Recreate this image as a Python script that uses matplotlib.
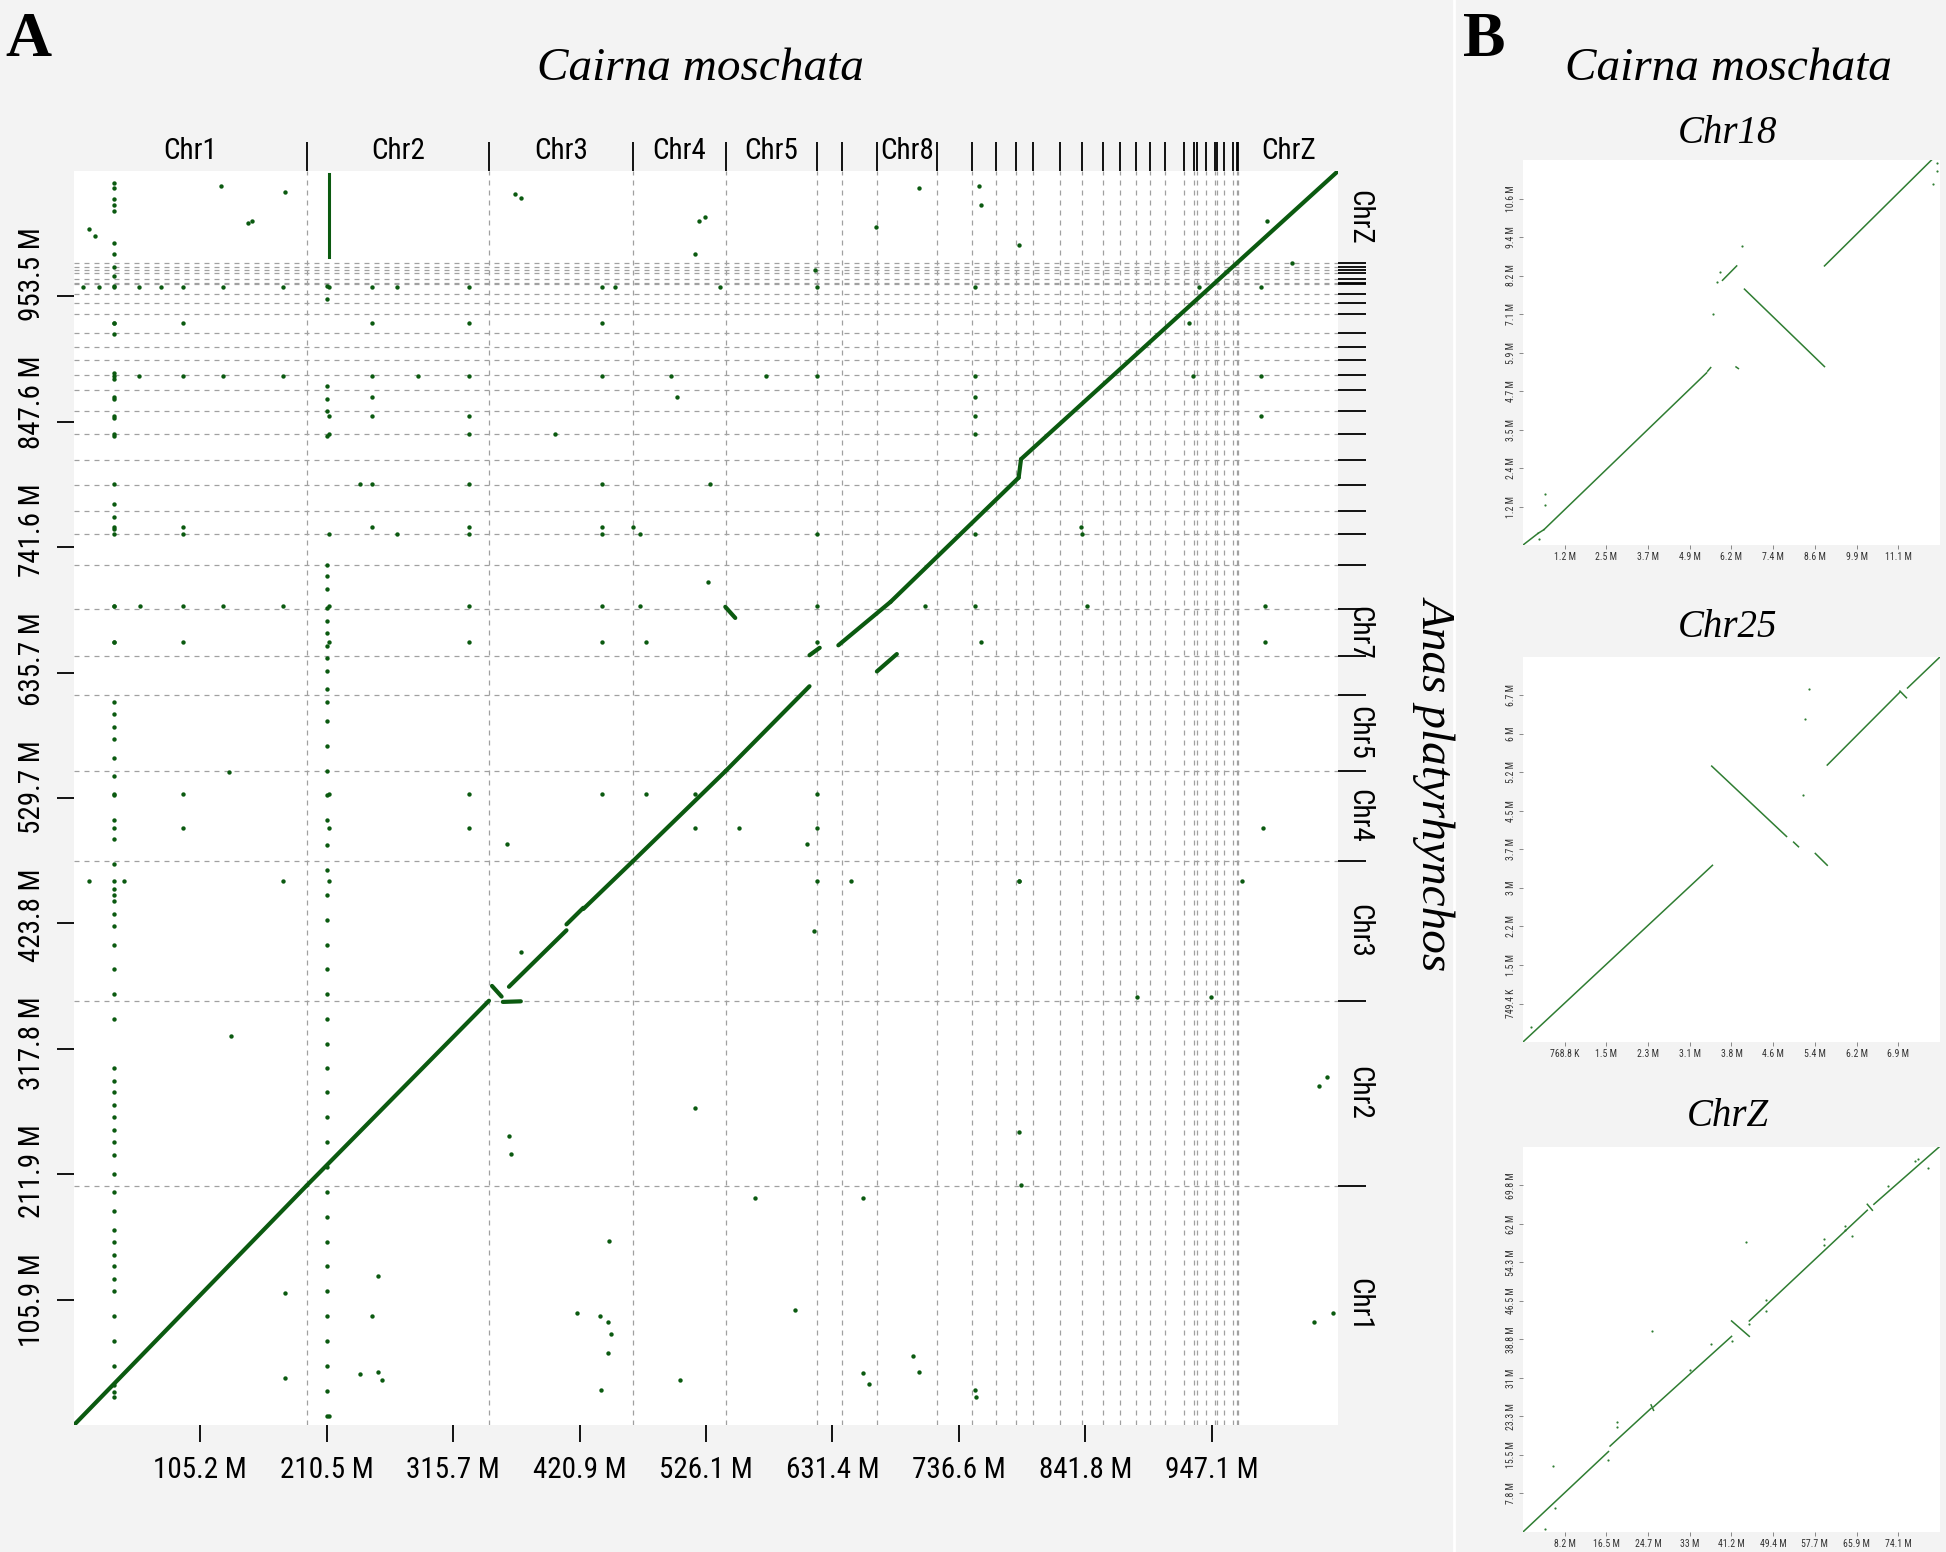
import numpy as np
import matplotlib.pyplot as plt
from matplotlib import font_manager
from matplotlib.transforms import blended_transform_factory, ScaledTranslation

# a narrow sans is needed for the tick labels; take the first one installed
installed = {f.name for f in font_manager.fontManager.ttflist}
narrow = [n for n in ['Liberation Sans Narrow', 'Roboto Condensed', 'DejaVu Sans Condensed',
                      'Open Sans Condensed'] if n in installed]
cond = [f for f in font_manager.fontManager.ttflist
        if f.name in ('DejaVu Sans', 'Roboto', 'Open Sans', 'Noto Sans') and f.stretch in
        ('condensed', 'semi-condensed', 'extra-condensed', 'ultra-condensed', 300)]
if narrow:
    plt.rcParams['font.family'] = [narrow[0], 'DejaVu Sans']
    FS = 21
elif cond:
    plt.rcParams['font.family'] = [cond[0].name, 'DejaVu Sans']
    plt.rcParams['font.stretch'] = 'condensed'
    FS = 21
else:
    plt.rcParams['font.family'] = ['Liberation Sans', 'DejaVu Sans']
    FS = 18

BG = '#f3f3f3'
GREEN = '#0b5a10'
LGREEN = '#2f7d32'
SERIF = 'Liberation Serif'

# ---- panel A: whole genome, Cairina moschata (x) vs Anas platyrhynchos (y), Mb
x_total = 1052.3
y_total = 1059.5
x_tick_labels = ['105.2 M', '210.5 M', '315.7 M', '420.9 M', '526.1 M',
                 '631.4 M', '736.6 M', '841.8 M', '947.1 M']
y_tick_labels = ['105.9 M', '211.9 M', '317.8 M', '423.8 M', '529.7 M',
                 '635.7 M', '741.6 M', '847.6 M', '953.5 M']

cm_bounds = [193.7, 345.5, 465.1, 542.5, 618.3, 639.1, 668.7, 718.7, 747.6,
             767.6, 784.2, 798.1, 820.8, 838.9, 856.9, 870.9, 884.1, 895.5,
             908.0, 924.2, 932.6, 934.5, 942.4, 949.9, 951.3, 957.6, 965.1,
             967.9, 969.4]
cm_labels = {0: 'Chr1', 1: 'Chr2', 2: 'Chr3', 3: 'Chr4', 4: 'Chr5', 7: 'Chr8', 29: 'ChrZ'}

ap_bounds = [202.3, 358.5, 476.2, 552.6, 617.0, 649.9, 689.2, 726.3, 752.9,
             772.6, 794.3, 815.2, 837.7, 856.6, 874.1, 887.4, 900.1, 910.5,
             922.5, 938.6, 948.4, 955.4, 963.8, 965.2, 968.7, 973.6, 975.9,
             978.5, 982.0]
ap_labels = {0: 'Chr1', 1: 'Chr2', 2: 'Chr3', 3: 'Chr4', 4: 'Chr5', 6: 'Chr7', 29: 'ChrZ'}

# collinear blocks (x0, y0, x1, y1)
diag_blocks = [
    (0, 0, 193.7, 202.3),
    (193.7, 202.3, 345.5, 358.5),
    (348.0, 371.0, 356.0, 362.0),
    (357.0, 357.5, 372.0, 358.0),
    (362.1, 370.3, 410.0, 418.0),
    (410.0, 423.0, 424.0, 437.0),
    (424.0, 436.0, 465.1, 476.2),
    (465.1, 476.2, 542.5, 552.6),
    (542.2, 691.3, 550.5, 681.9),
    (542.5, 552.6, 612.3, 624.2),
    (612.3, 650.4, 620.8, 656.7),
    (636.3, 658.8, 679.8, 695.5),
    (668.4, 636.7, 685.0, 651.4),
    (679.8, 695.5, 786.4, 800.4),
    (786.4, 800.4, 788.4, 816.1),
    (788.4, 816.1, 1052.3, 1059.5),
]

# column of scattered hits at Chr1 (x ~ 33 Mb) and Chr2 start (x ~ 212 Mb)
col1_y = [1049, 1045, 1036, 1031, 1026, 999, 989, 978, 971, 962, 931, 922, 889,
          884, 867, 851, 836, 778, 767, 757, 692, 662, 611, 601, 590, 580, 564,
          548, 532, 511, 495, 474, 453, 448, 443, 432, 422, 406, 385, 364, 343,
          302, 291, 281, 270, 260, 249, 239, 228, 212, 197, 181, 165, 155, 144,
          134, 123, 113, 92, 71, 50, 34, 28, 24]
col2_y = [962, 951, 878, 867, 857, 836, 727, 717, 706, 690, 679, 669, 658, 648,
          637, 622, 611, 595, 574, 553, 532, 511, 490, 469, 448, 427, 406, 385,
          364, 343, 322, 302, 281, 260, 239, 218, 197, 176, 155, 134, 113, 92,
          71, 50, 29, 8]
col2_run = (212.1, 987.0, 1057.0)

# rows of scattered hits: y value -> x values
rows = {
    961.9: [7.2, 20.7, 33.1, 53.8, 72.4, 91.1, 124.2, 173.8, 212.1, 248.3, 269.0,
            329.0, 439.7, 450.1, 538.0, 618.7, 750.2, 936.4, 988.1],
    931.5: [33.1, 91.1, 248.3, 329.0, 439.7, 928.0],
    886.4: [33.1, 53.8, 91.1, 124.2, 173.8, 248.3, 286.6, 329.0, 439.7, 496.7,
            576.3, 618.7, 750.2, 931.2, 988.1],
    868.6: [33.1, 248.3, 501.8, 750.2],
    852.8: [33.1, 212.1, 248.3, 329.0, 750.2, 988.1],
    837.1: [33.1, 212.1, 329.0, 400.4, 750.2],
    795.1: [33.1, 238.0, 248.3, 329.0, 439.7, 529.7],
    758.4: [33.1, 91.1, 248.3, 329.0, 439.7, 465.5, 838.0],
    753.2: [33.1, 91.1, 212.1, 269.0, 329.0, 439.7, 470.8, 618.7, 750.2, 839.1],
    692.3: [33.1, 54.8, 91.1, 124.2, 173.8, 212.1, 329.0, 439.7, 470.8, 618.7,
            708.8, 750.2, 843.3, 991.2],
    661.9: [33.1, 91.1, 212.1, 329.0, 439.7, 476.0, 618.7, 755.3, 991.2],
    532.9: [33.1, 91.1, 212.1, 329.0, 439.7, 476.0, 517.4, 618.7],
    504.6: [33.1, 91.1, 212.1, 329.0, 517.4, 553.6, 618.7, 990.2],
    459.5: [12.4, 33.1, 41.4, 173.8, 212.1, 618.7, 646.7, 786.4, 972.6],
}

# isolated hits (x, y)
scatter_x = [12.4, 17.6, 122.1, 148.0, 144.9, 372.5, 517.4, 520.5, 525.6, 667.4,
             703.6, 753.3, 755.3, 786.4, 616.7, 993.3, 1014.0, 129.3, 360.1,
             610.5, 616.3, 786.4, 946.7, 884.6, 130.4, 517.4, 786.4, 362.1, 364.2,
             788.4, 567.0, 657.0, 445.0, 175.9, 248.3, 419.0, 600.0, 437.7,
             1032.6, 1048.1, 444.9, 447.0, 444.9, 438.7, 504.9, 703.6, 698.4,
             657.0, 662.2, 750.2, 751.2, 238.0, 253.5, 256.6, 175.9, 1043.0,
             1036.8, 253.5, 367.3, 527.6, 372.5, 212.1, 175.9]
scatter_y = [1010.2, 1004.9, 1046.9, 1017.5, 1015.4, 1036.4, 989.2, 1017.5,
             1020.7, 1012.3, 1044.8, 1046.9, 1031.2, 996.6, 975.6, 1017.5, 981.9,
             551.8, 490.9, 490.9, 417.5, 459.5, 361.9, 361.9, 328.3, 267.5,
             247.6, 244.4, 228.7, 202.5, 192.0, 192.0, 155.3, 111.2, 92.3, 94.4,
             97.6, 92.3, 87.1, 94.4, 87.1, 76.6, 60.8, 29.4, 37.8, 45.1, 58.7,
             44.1, 34.6, 29.4, 24.1, 43.0, 45.1, 37.8, 39.9, 293.7, 286.4, 125.9,
             1040.0, 712.0, 400.0, 8.0, 1042.0]

# ---- panel B: single chromosome zooms (Mb)
b_titles = ['Chr18', 'Chr25', 'ChrZ']
b_x_total = [12.35, 7.688, 82.35]
b_y_total = [11.78, 7.494, 77.55]
b_x_labels = [
    ['1.2 M', '2.5 M', '3.7 M', '4.9 M', '6.2 M', '7.4 M', '8.6 M', '9.9 M', '11.1 M'],
    ['768.8 K', '1.5 M', '2.3 M', '3.1 M', '3.8 M', '4.6 M', '5.4 M', '6.2 M', '6.9 M'],
    ['8.2 M', '16.5 M', '24.7 M', '33 M', '41.2 M', '49.4 M', '57.7 M', '65.9 M', '74.1 M'],
]
b_y_labels = [
    ['1.2 M', '2.4 M', '3.5 M', '4.7 M', '5.9 M', '7.1 M', '8.2 M', '9.4 M', '10.6 M'],
    ['749.4 K', '1.5 M', '2.2 M', '3 M', '3.7 M', '4.5 M', '5.2 M', '6 M', '6.7 M'],
    ['7.8 M', '15.5 M', '23.3 M', '31 M', '38.8 M', '46.5 M', '54.3 M', '62 M', '69.8 M'],
]
b_blocks = [
    [(0, 0, 0.45, 0.36), (0.45, 0.36, 0.62, 0.47), (0.62, 0.47, 5.44, 5.27),
     (5.47, 5.32, 5.56, 5.43), (5.91, 8.10, 6.33, 8.54), (6.31, 5.45, 6.38, 5.40),
     (6.56, 7.83, 8.93, 5.46), (8.93, 8.54, 12.1, 11.78)],
    [(0, 0, 3.494, 3.439), (3.48, 5.37, 4.86, 4.00), (4.99, 3.89, 5.08, 3.80),
     (5.39, 3.67, 5.61, 3.44), (5.61, 5.39, 6.95, 6.81), (6.95, 6.83, 7.07, 6.70),
     (7.09, 6.89, 7.688, 7.494)],
    [(0, 0, 16.9, 16.2), (17.2, 17.3, 25.3, 24.9), (25.3, 25.6, 25.8, 24.5),
     (25.8, 25.2, 41.2, 39.4), (41.2, 42.5, 44.7, 39.4), (44.7, 42.5, 68.0, 64.8),
     (68.0, 66.0, 69.0, 64.8), (69.3, 66.0, 82.2, 77.55)],
]
b_dots_x = [
    [0.66, 0.66, 0.49, 5.62, 6.48, 5.75, 5.85, 12.15, 12.25, 12.25],
    [0.15, 5.27, 5.20, 5.17],
    [44.0, 25.4, 5.9, 18.5, 18.5, 59.5, 59.5, 63.5, 63.5, 65.0, 72.0, 79.9, 78.0,
     47.9, 47.9, 44.7, 41.2, 37.1, 33.0, 4.3, 6.3, 16.8, 77.5],
]
b_dots_y = [
    [1.56, 1.23, 0.20, 7.07, 9.16, 8.05, 8.35, 11.05, 11.43, 11.70],
    [0.29, 6.88, 6.28, 4.80],
    [58.4, 40.4, 13.3, 22.2, 21.2, 59.1, 57.7, 61.6, 60.9, 59.7, 69.6, 73.4,
     75.2, 46.7, 44.6, 41.8, 38.4, 37.8, 32.6, 0.5, 4.8, 14.5, 74.8],
]

fig = plt.figure(figsize=(19.46, 15.52), dpi=100, facecolor=BG)
fig.add_artist(plt.Line2D([0.7472, 0.7472], [0, 1], color='white', lw=2))

# ================= panel A
ax = fig.add_axes([0.0380, 0.0818, 0.6496, 0.8080])
ax.set_facecolor('white')
ax.set_xlim(0, x_total)
ax.set_ylim(0, y_total)
for s in ax.spines.values():
    s.set_visible(False)

for b in cm_bounds:
    ax.axvline(b, color='#a0a0a0', lw=0.9, ls=(0, (4, 4)), zorder=1)
for b in ap_bounds:
    ax.axhline(b, color='#a0a0a0', lw=0.9, ls=(0, (4, 4)), zorder=1)

for x0, y0, x1, y1 in diag_blocks:
    ax.plot([x0, x1], [y0, y1], color=GREEN, lw=3.0, solid_capstyle='round', zorder=3)

ax.scatter([33.1] * len(col1_y), col1_y, s=10, color=GREEN, zorder=3, lw=0)
ax.scatter([211.0] * len(col2_y), col2_y, s=10, color=GREEN, zorder=3, lw=0)
ax.plot([col2_run[0]] * 2, col2_run[1:], color=GREEN, lw=2.2, zorder=3)
for yv, xs in rows.items():
    ax.scatter(xs, [yv] * len(xs), s=10, color=GREEN, zorder=3, lw=0)
ax.scatter(scatter_x, scatter_y, s=10, color=GREEN, zorder=3, lw=0)

xt = np.arange(1, 10) * x_total / 10
yt = np.arange(1, 10) * y_total / 10
ax.set_xticks(xt)
ax.set_xticklabels(x_tick_labels, fontsize=FS)
ax.set_yticks(yt)
ax.set_yticklabels(y_tick_labels, fontsize=FS, rotation=90, va='center')
ax.tick_params(axis='x', length=12, width=1.3, pad=10)
ax.tick_params(axis='y', length=12, width=1.3, pad=8)
# the y labels drift upward from their ticks towards the top, as in the original
for i, lab in enumerate(ax.get_yticklabels()):
    lab.set_transform(lab.get_transform() + ScaledTranslation(0, i * 0.028, fig.dpi_scale_trans))

top = ax.secondary_xaxis('top')
top.set_xticks(cm_bounds)
top.set_xticklabels([])
top.tick_params(length=21, width=1.3)
top.spines['top'].set_visible(False)
right = ax.secondary_yaxis('right')
right.set_yticks(ap_bounds)
right.set_yticklabels([])
right.tick_params(length=20, width=1.3)
right.spines['right'].set_visible(False)

cm_edges = [0] + cm_bounds + [x_total]
ap_edges = [0] + ap_bounds + [y_total]
tx = blended_transform_factory(ax.transData, ax.transAxes)
for i, name in cm_labels.items():
    ax.text((cm_edges[i] + cm_edges[i + 1]) / 2, 1.016, name, transform=tx,
            ha='center', va='center', fontsize=FS)
ty = blended_transform_factory(ax.transAxes, ax.transData)
for i, name in ap_labels.items():
    ax.text(1.0166, (ap_edges[i] + ap_edges[i + 1]) / 2, name, transform=ty,
            ha='center', va='center', fontsize=FS, rotation=-90)

fig.text(0.003, 0.992, 'A', family=SERIF, fontweight='bold', fontsize=46, va='top')
fig.text(0.360, 0.956, 'Cairna moschata', family=SERIF, style='italic',
         fontsize=34, ha='center', va='center')
fig.text(0.738, 0.496, 'Anas platyrhynchos', family=SERIF, style='italic',
         fontsize=34, ha='center', va='center', rotation=-90)

# ================= panel B
fig.text(0.752, 0.992, 'B', family=SERIF, fontweight='bold', fontsize=46, va='top')
fig.text(0.888, 0.956, 'Cairna moschata', family=SERIF, style='italic',
         fontsize=34, ha='center', va='center')

b_bottoms = [0.6488, 0.3286, 0.0129]
b_title_y = [0.9137, 0.596, 0.2803]
for k in range(3):
    bx = fig.add_axes([0.7826, b_bottoms[k], 0.2143, 0.2481])
    bx.set_facecolor('white')
    for s in bx.spines.values():
        s.set_visible(False)
    bx.set_xlim(0, b_x_total[k])
    bx.set_ylim(0, b_y_total[k])
    for x0, y0, x1, y1 in b_blocks[k]:
        bx.plot([x0, x1], [y0, y1], color=LGREEN, lw=1.1)
    bx.scatter(b_dots_x[k], b_dots_y[k], s=2.5, color=LGREEN, lw=0)
    bx.set_xticks(np.arange(1, 10) * b_x_total[k] / 10)
    bx.set_xticklabels(b_x_labels[k], fontsize=7, color='#333333')
    bx.set_yticks(np.arange(1, 10) * b_y_total[k] / 10)
    bx.set_yticklabels(b_y_labels[k], fontsize=7, color='#333333', rotation=90, va='center')
    bx.tick_params(length=3, width=0.6, color='#777777', pad=2)
    fig.text(0.888, b_title_y[k], b_titles[k], family=SERIF, style='italic',
             fontsize=28, ha='center', va='center')

fig.savefig('out.png', dpi=100, facecolor=BG)
